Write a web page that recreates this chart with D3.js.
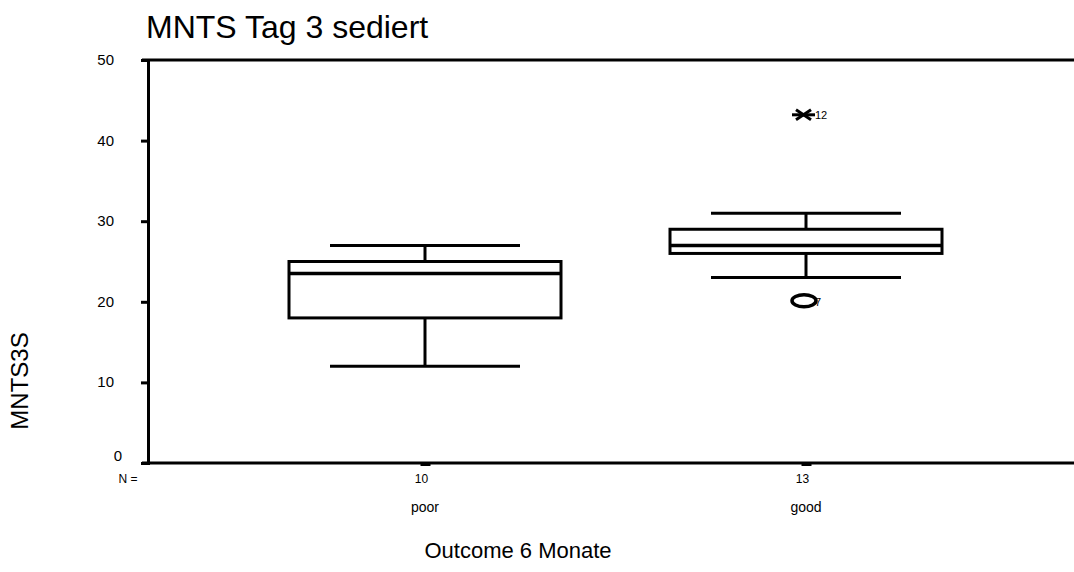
<!DOCTYPE html>
<html>
<head>
<meta charset="utf-8">
<script src="https://cdn.jsdelivr.net/npm/d3@7"></script>
<style>
  body { margin: 0; background: #fff; }
  svg { display: block; font-family: "Liberation Sans", Arial, sans-serif; }
</style>
</head>
<body>
<svg width="1074" height="572"></svg>
<script>
// data
var groups = ["poor", "good"];
var counts = [10, 13];
var q1 = [18, 26];
var median = [23.5, 27];
var q3 = [25, 29];
var whiskLo = [12, 23];
var whiskHi = [27, 31];
var outliers = [
  { group: "good", value: 20, label: "7", kind: "o" },
  { group: "good", value: 43.2, label: "12", kind: "x" }
];
var yTicks = [0, 10, 20, 30, 40, 50];

var svg = d3.select("svg");
var plotL = 148, plotR = 1074, plotT = 60, plotB = 463;

var y = d3.scaleLinear().domain([0, 50]).range([plotB, plotT]);
var x = d3.scalePoint().domain(groups).range([425, 806]);

var boxW = 272, capW = 190;

// title
svg.append("text").attr("x", 146).attr("y", 38)
  .attr("font-size", 32).text("MNTS Tag 3 sediert");

// frame line on top
svg.append("line").attr("x1", plotL - 6).attr("x2", plotR)
  .attr("y1", plotT).attr("y2", plotT)
  .attr("stroke", "#000").attr("stroke-width", 3);

// y axis
var yAxis = d3.axisLeft(y).tickValues(yTicks).tickSize(7).tickPadding(27);
var ga = svg.append("g").attr("transform", "translate(" + plotL + ",0)").call(yAxis);
ga.select(".domain").attr("stroke-width", 3);
ga.selectAll(".tick line").attr("stroke-width", 3);
ga.selectAll(".tick text").attr("font-size", 15).attr("fill", "#000").attr("dy", "0.3em");
// SPSS puts the zero label a bit off
ga.selectAll(".tick text").filter(function(d) { return d === 0; })
  .attr("dx", 8).attr("dy", "-0.2em");

// x axis
var xAxis = d3.axisBottom(x).tickSize(3).tickPadding(8).tickFormat(function(d, i) { return counts[i]; });
var gx = svg.append("g").attr("transform", "translate(0," + plotB + ")").call(xAxis);
gx.select(".domain").remove();
gx.selectAll(".tick line").attr("stroke-width", 10);
gx.selectAll(".tick text").attr("font-size", 12).attr("fill", "#000").attr("dx", -4);
svg.append("line").attr("x1", plotL - 6).attr("x2", plotR)
  .attr("y1", plotB).attr("y2", plotB)
  .attr("stroke", "#000").attr("stroke-width", 3);

svg.append("text").attr("x", 128).attr("y", 483)
  .attr("font-size", 12).attr("text-anchor", "middle").text("N =");

// category labels
svg.selectAll(".cat").data(groups).enter().append("text")
  .attr("class", "cat")
  .attr("x", function(d) { return x(d); })
  .attr("y", 512)
  .attr("font-size", 14).attr("text-anchor", "middle")
  .text(function(d) { return d; });

// axis titles
svg.append("text").attr("x", 518).attr("y", 558)
  .attr("font-size", 22).attr("text-anchor", "middle").text("Outcome 6 Monate");
svg.append("text").attr("transform", "translate(28,381) rotate(-90)")
  .attr("font-size", 24).attr("text-anchor", "middle").text("MNTS3S");

// boxes
var g = svg.append("g").attr("stroke", "#000").attr("stroke-width", 3).attr("fill", "none");
groups.forEach(function(name, i) {
  var cx = x(name);
  g.append("line").attr("x1", cx).attr("x2", cx).attr("y1", y(whiskHi[i])).attr("y2", y(q3[i]));
  g.append("line").attr("x1", cx).attr("x2", cx).attr("y1", y(q1[i])).attr("y2", y(whiskLo[i]));
  g.append("line").attr("x1", cx - capW / 2).attr("x2", cx + capW / 2)
    .attr("y1", y(whiskHi[i])).attr("y2", y(whiskHi[i]));
  g.append("line").attr("x1", cx - capW / 2).attr("x2", cx + capW / 2)
    .attr("y1", y(whiskLo[i])).attr("y2", y(whiskLo[i]));
  g.append("rect").attr("x", cx - boxW / 2).attr("width", boxW)
    .attr("y", y(q3[i])).attr("height", y(q1[i]) - y(q3[i]));
  g.append("line").attr("x1", cx - boxW / 2).attr("x2", cx + boxW / 2)
    .attr("y1", y(median[i])).attr("y2", y(median[i])).attr("stroke-width", 3.5);
});

// outliers
outliers.forEach(function(o) {
  var cx = x(o.group) - 2, cy = y(o.value);
  if (o.kind === "o") {
    g.append("ellipse").attr("cx", cx).attr("cy", cy - 1).attr("rx", 12).attr("ry", 6)
      .attr("stroke-width", 3.5);
  } else {
    g.append("line").attr("x1", cx - 12).attr("x2", cx + 11).attr("y1", cy).attr("y2", cy);
    g.append("line").attr("x1", cx - 8).attr("x2", cx + 7).attr("y1", cy - 5).attr("y2", cy + 5);
    g.append("line").attr("x1", cx - 8).attr("x2", cx + 7).attr("y1", cy + 5).attr("y2", cy - 5);
  }
  svg.append("text").attr("x", cx + 11).attr("y", cy + 4)
    .attr("font-size", 11).text(o.label);
});
</script>
</body>
</html>
